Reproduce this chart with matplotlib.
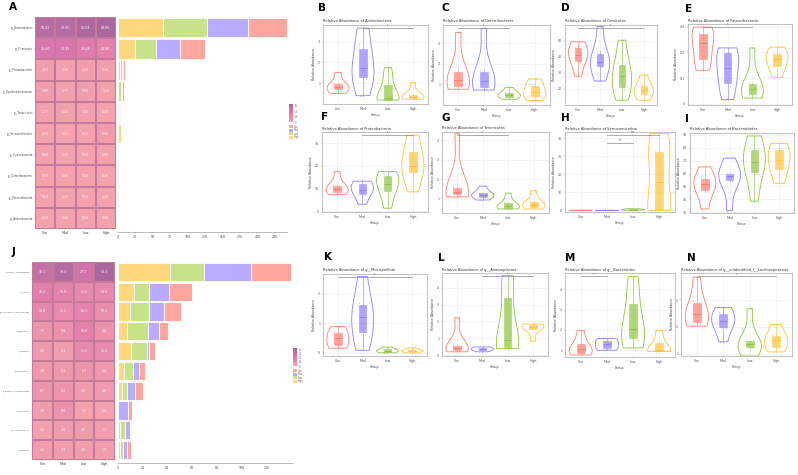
import matplotlib
matplotlib.use('Agg')
import matplotlib.pyplot as plt
import numpy as np
from matplotlib.colors import LinearSegmentedColormap

W, H = 798, 475
fig = plt.figure(figsize=(7.98, 4.75), dpi=100)

# ---------------- data ----------------
groups = ['Con', 'Mod', 'Low', 'High']
line_cols = ['#FF7B6E', '#8F7EFF', '#8DC641', '#FFC236']
fill_cols = ['#FFA79E', '#B9ABFF', '#C6E38A', '#FFD77C']

A_taxa = ['p__Bacteroidetes', 'p__Firmicutes', 'p__Proteobacteria', 'p__Epsilonbacteraeota',
          'p__Tenericutes', 'p__Verrucomicrobia', 'p__Cyanobacteria', 'p__Deferribacteres',
          'p__Patescibacteria', 'p__Actinobacteria']
A_con = [56.41, 35.60, 3.07, 3.06, 1.77, 0.02, 0.84, 0.51, 0.63, 0.23]
A_mod = [57.80, 35.35, 1.90, 1.77, 1.21, 0.01, 0.37, 0.66, 0.37, 0.46]
A_low = [63.04, 29.58, 3.10, 3.56, 1.52, 0.11, 0.56, 0.26, 0.15, 0.14]
A_high = [64.86, 24.86, 3.14, 1.16, 0.70, 5.06, 0.80, 0.36, 0.48, 0.08]
A_xticks = [0, 25, 50, 75, 100, 125, 150, 175, 200, 225]

J_taxa = ['g__norank_f__Muribaculaceae', 'g__Alistipes', 'g__Lachnospiraceae_NK4A136_group',
          'g__Bacteroides', 'g__Dubosiella', 'g__Ruminococcus', 'g__unidentified_Lachnospiraceae',
          'g__Helicobacter', 'g__Prevotellaceae_UCG', 'g__Odoribacter']
J_con = [32.1, 18.2, 14.0, 7.0, 4.3, 4.8, 6.7, 3.0, 0.8, 3.2]
J_mod = [38.0, 15.8, 11.5, 8.8, 2.1, 5.1, 6.2, 8.0, 4.0, 2.9]
J_low = [27.3, 12.6, 15.5, 16.6, 12.6, 6.7, 4.0, 0.3, 4.0, 2.9]
J_high = [42.3, 13.0, 10.2, 8.0, 11.0, 5.4, 3.8, 0.5, 2.1, 1.9]
J_xticks = [0, 20, 40, 60, 80, 100, 120]

# violin panels: samples per group (Con, Mod, Low, High)
B_vals = [[0.51, 0.68, 0.76, 0.84, 1.0, 1.52], [0.40, 1.2, 1.6, 1.9, 2.9, 3.65],
          [0.19, 0.2, 0.24, 0.30, 1.1, 1.75], [0.23, 0.28, 0.33, 0.39, 0.47, 1.03]]
C_vals = [[0.77, 0.9, 1.1, 1.35, 1.7, 3.54], [0.73, 0.8, 1.05, 1.3, 1.7, 3.74],
          [0.28, 0.38, 0.46, 0.54, 0.62, 0.86], [0.21, 0.42, 0.55, 0.75, 1.0, 1.27]]
D_vals = [[28, 37, 40, 42.5, 46.5, 49.5], [25, 33.5, 36, 38, 43.5, 59],
          [13, 20, 25, 31, 36, 50.5], [13, 16, 18.5, 20.5, 22.5, 28.75]]
E_vals = [[0.130, 0.16, 0.21, 0.26, 0.275, 0.298], [0.016, 0.07, 0.12, 0.16, 0.21, 0.217],
          [0.022, 0.03, 0.055, 0.063, 0.08, 0.217], [0.102, 0.14, 0.165, 0.18, 0.2, 0.22]]
F_vals = [[7.35, 8.5, 9.4, 10.6, 11.5, 17.5], [3.15, 7.3, 9.0, 10.2, 12.8, 13.3],
          [1.4, 8.2, 11.0, 13.5, 16.3, 17.5], [8.6, 17, 19, 21.2, 28, 33.6]]
G_vals = [[1.08, 1.2, 1.3, 1.36, 1.6, 4.34], [0.92, 1.06, 1.16, 1.22, 1.3, 1.63],
          [0.46, 0.47, 0.55, 0.62, 0.8, 1.27], [0.46, 0.55, 0.62, 0.72, 0.85, 1.40]]
H_vals = [[0.01, 0.02, 0.03, 0.04, 0.05, 0.08], [0.0, 0.01, 0.012, 0.02, 0.03, 0.04],
          [0.1, 0.2, 0.35, 0.5, 0.7, 0.9], [0.02, 0.05, 0.4, 30.6, 33, 42.7]]
I_vals = [[32.5, 46, 50, 53.2, 57, 65.2], [31.2, 54.5, 57, 58.6, 60, 72],
          [38.6, 60, 66, 71.8, 80, 89.2], [52.5, 62, 69, 72.4, 80, 83.4]]
K_vals = [[0.153, 0.22, 0.42, 0.56, 0.72, 0.89], [0.083, 0.6, 1.0, 1.42, 1.7, 2.585],
          [0.0, 0.03, 0.06, 0.09, 0.12, 0.195], [0.0, 0.04, 0.06, 0.08, 0.1, 0.165]]
L_vals = [[0.2, 0.28, 0.4, 0.48, 0.6, 2.22], [0.2, 0.28, 0.34, 0.38, 0.45, 0.49],
          [0.39, 0.42, 0.6, 1.26, 4.1, 4.73], [0.83, 1.55, 1.66, 1.72, 1.78, 1.85]]
M_vals = [[0.77, 0.82, 0.95, 1.13, 1.4, 1.97], [1.0, 1.05, 1.22, 1.36, 1.5, 1.58],
          [1.12, 1.5, 1.85, 2.25, 3.6, 4.63], [0.94, 0.95, 0.98, 1.02, 1.45, 1.99]]
N_vals = [[2.03, 2.1, 2.4, 2.6, 3.0, 3.875], [1.44, 1.95, 2.15, 2.29, 2.55, 2.73],
          [0.906, 1.22, 1.32, 1.4, 1.47, 2.69], [1.06, 1.2, 1.42, 1.58, 1.7, 2.09]]

# ---------------- helpers ----------------
def ax_px(x0, y0, x1, y1):
    return fig.add_axes([x0 / W, 1 - y1 / H, (x1 - x0) / W, (y1 - y0) / H])

def letter(x, y, s):
    fig.text(x / W, 1 - y / H, s, fontsize=7.5, fontweight='bold', ha='left', va='top')

hm_cmap = LinearSegmentedColormap.from_list('hm', ['#F4A1AD', '#DD78AE', '#A8679F'])
FS = 2.3

def heat_and_bars(hbox, bbox, taxa, cols, xticks, xmax, fmt, vmax, legbox, lab_fs):
    mat = np.array(cols).T  # rows taxa, cols groups
    n = len(taxa)
    ax = ax_px(*hbox)
    ax.pcolormesh(np.arange(5) - 0.5, np.arange(n + 1) - 0.5, mat, cmap=hm_cmap,
                  vmin=0, vmax=vmax, edgecolors='#C57A9A', linewidth=0.3)
    ax.set_xlim(-0.5, 3.5)
    ax.set_ylim(n - 0.5, -0.5)
    for i in range(n):
        for j in range(4):
            ax.text(j, i, fmt % mat[i, j], ha='center', va='center', fontsize=FS, color='white')
    ax.set_yticks(range(n))
    ax.set_yticklabels(taxa, fontsize=lab_fs, color='#444444')
    ax.set_xticks(range(4))
    ax.set_xticklabels(groups, fontsize=FS, color='#444444')
    ax.tick_params(length=1, width=0.3, pad=0.6, colors='#888888', labelcolor='#444444')
    for s in ax.spines.values():
        s.set_visible(False)

    bx = ax_px(*bbox)
    for k in ['top', 'right', 'left']:
        bx.spines[k].set_visible(False)
    bx.spines['bottom'].set_position(('outward', 2))
    bx.spines['bottom'].set_linewidth(0.4)
    bx.spines['bottom'].set_color('#888888')
    left = np.zeros(n)
    order = [3, 2, 1, 0]
    for g in order:
        bx.barh(range(n), mat[:, g], left=left, height=0.92, color=fill_cols[g],
                edgecolor='white', linewidth=0.6)
        left += mat[:, g]
    bx.set_ylim(n - 0.5, -0.5)
    bx.set_xlim(0, xmax)
    bx.set_yticks([])
    bx.set_xticks(xticks)
    bx.set_xticklabels([str(t) for t in xticks], fontsize=FS, color='#444444')
    bx.tick_params(axis='x', length=1, width=0.3, pad=1, colors='#888888',
                   labelcolor='#444444', labelsize=FS)

    # legend: colorbar + group keys
    lx, ly = legbox
    cax = ax_px(lx, ly, lx + 3.5, ly + 18)
    grad = np.linspace(vmax, 0, 50).reshape(-1, 1)
    cax.imshow(grad, aspect='auto', cmap=hm_cmap, vmin=0, vmax=vmax,
               extent=[0, 1, 0, vmax])
    cax.set_xticks([])
    cax.yaxis.tick_right()
    step = 20 if vmax > 45 else 10
    cax.set_yticks(np.arange(0, vmax, step))
    cax.tick_params(length=0.8, width=0.3, pad=0.8, labelsize=1.8, colors='#666666')
    for s in cax.spines.values():
        s.set_visible(False)
    for g in range(4):
        yy = ly + 21 + g * 3.6
        kax = ax_px(lx, yy, lx + 3.5, yy + 3.2)
        kax.set_facecolor(fill_cols[g])
        kax.set_xticks([]); kax.set_yticks([])
        for s in kax.spines.values():
            s.set_visible(False)
        fig.text((lx + 5) / W, 1 - (yy + 1.6) / H, groups[g], fontsize=1.8,
                 color='#666666', va='center')

offs = [-0.12, 0.1, -0.05, 0.15, -0.16, 0.04]

def violin_panel(box, title, data, ylim, yticks, sigs):
    ax = ax_px(*box)
    pos = [1, 2, 3, 4]
    ax.set_axisbelow(True)
    ax.grid(True, color='#EBEBEB', linewidth=0.4)
    vp = ax.violinplot(data, positions=pos, widths=0.88, showextrema=False)
    for b, c in zip(vp['bodies'], line_cols):
        b.set_facecolor('none')
        b.set_edgecolor(c)
        b.set_linewidth(0.6)
        b.set_alpha(1)
    bp = ax.boxplot(data, positions=pos, widths=0.3, patch_artist=True, showfliers=False,
                    manage_ticks=False)
    for i in range(4):
        bp['boxes'][i].set(facecolor=line_cols[i], edgecolor=line_cols[i], linewidth=0.4, alpha=0.7)
        bp['medians'][i].set(color=line_cols[i], linewidth=0.7)
        for w in bp['whiskers'][2 * i:2 * i + 2]:
            w.set(color=line_cols[i], linewidth=0.4)
        for c in bp['caps'][2 * i:2 * i + 2]:
            c.set(visible=False)
        xs = [pos[i] + offs[k % 6] for k in range(len(data[i]))]
        ax.scatter(xs, data[i], s=0.8, color=line_cols[i], alpha=0.5, linewidths=0, zorder=4)
    ax.set_xlim(0.4, 4.6)
    ax.set_ylim(*ylim)
    ax.set_xticks(pos)
    ax.set_xticklabels(groups, fontsize=FS, color='#555555')
    ax.set_yticks(yticks)
    ax.set_yticklabels([('%g' % t) for t in yticks], fontsize=FS, color='#555555')
    ax.tick_params(length=1, width=0.3, pad=1, colors='#999999', labelcolor='#555555')
    ax.set_xlabel('Group', fontsize=FS, labelpad=1.5, color='#444444')
    ax.set_ylabel('Relative Abundance', fontsize=FS, labelpad=1.5, color='#444444')
    ax.set_title(title, fontsize=2.6, loc='left', pad=1.8, color='#333333')
    for s in ax.spines.values():
        s.set_color('#B5B5B5')
        s.set_linewidth(0.6)
    span = ylim[1] - ylim[0]
    for (g1, g2, lev, lab) in sigs:
        yv = ylim[1] - span * (0.035 + lev * 0.1)
        ax.plot([g1, g2], [yv, yv], color='#8A8A8A', linewidth=0.5, zorder=5)
        ax.text((g1 + g2) / 2, yv, lab, fontsize=2.0, ha='center', va='bottom', color='#444444')
    return ax

# ---------------- panels A and J ----------------
heat_and_bars((35, 17, 116, 229), (117.5, 17, 287, 229), A_taxa,
              [A_con, A_mod, A_low, A_high], A_xticks, 242, '%.2f', 66, (289, 104), 1.9)
heat_and_bars((32, 262, 115, 460), (117.5, 262, 293, 460), J_taxa,
              [J_con, J_mod, J_low, J_high], J_xticks, 141, '%.1f', 43, (293, 348), 1.2)

# ---------------- violin panels ----------------
violin_panel((323, 25, 428, 104), 'Relative Abundance of Actinobacteria', B_vals,
             (0, 3.8), [1, 2, 3], [(2, 4, 0, '*')])
violin_panel((443, 25, 550, 105), 'Relative Abundance of Deferribacteres', C_vals,
             (0, 3.9), [1, 2, 3], [(1, 3, 0, '*')])
violin_panel((565, 25, 657, 105), 'Relative Abundance of Firmicutes', D_vals,
             (10, 60), [20, 30, 40, 50], [(1, 4, 0, '*')])
violin_panel((688, 24, 792, 105), 'Relative Abundance of Patescibacteria', E_vals,
             (-0.005, 0.31), [0.0, 0.1, 0.2, 0.3], [(1, 3, 0, '*')])
violin_panel((322, 132, 428, 212), 'Relative Abundance of Proteobacteria', F_vals,
             (-0.3, 35), [0, 10, 20, 30], [(2, 4, 0, '*')])
violin_panel((442, 132, 549, 213), 'Relative Abundance of Tenericutes', G_vals,
             (0.25, 4.42), [1, 2, 3, 4], [(1, 3, 0, '*')])
violin_panel((565, 132, 675, 212), 'Relative Abundance of Verrucomicrobia', H_vals,
             (-0.9, 43.5), [0, 10, 20, 30, 40], [(2, 4, 0, '***'), (2, 3, 1, '**')])
violin_panel((690, 133, 794, 213), 'Relative Abundance of Bacteroidetes', I_vals,
             (29.4, 91.5), [30, 40, 50, 60, 70, 80, 90], [])
violin_panel((323, 274, 427, 356), 'Relative Abundance of g__Mucispirillum', K_vals,
             (-0.11, 2.67), [0, 1, 2], [(1, 4, 0, '*')])
violin_panel((442, 273, 548, 356), 'Relative Abundance of g__Anaeroplasma', L_vals,
             (-0.05, 4.88), [0, 1, 2, 3, 4], [(2, 4, 0, '*')])
violin_panel((565, 273, 675, 357), 'Relative Abundance of g__Bacteroides', M_vals,
             (0.67, 4.8), [1, 2, 3, 4], [(1, 2, 0, '*')])
violin_panel((681, 273, 792, 356), 'Relative Abundance of g__unidentified_f__Lachnospiraceae', N_vals,
             (0.906, 4.03), [1, 2, 3], [(1, 4, 0, '*')])

# ---------------- panel letters ----------------
for (x, y, s) in [(9, 2, 'A'), (318, 3, 'B'), (441, 3, 'C'), (561, 3, 'D'), (685, 4, 'E'),
                  (321, 112, 'F'), (441, 113, 'G'), (561, 113, 'H'), (685, 114, 'I'),
                  (12, 247, 'J'), (324, 252, 'K'), (438, 253, 'L'), (565, 253, 'M'), (687, 253, 'N')]:
    letter(x, y, s)

fig.savefig('out.png', dpi=100, facecolor='white')
